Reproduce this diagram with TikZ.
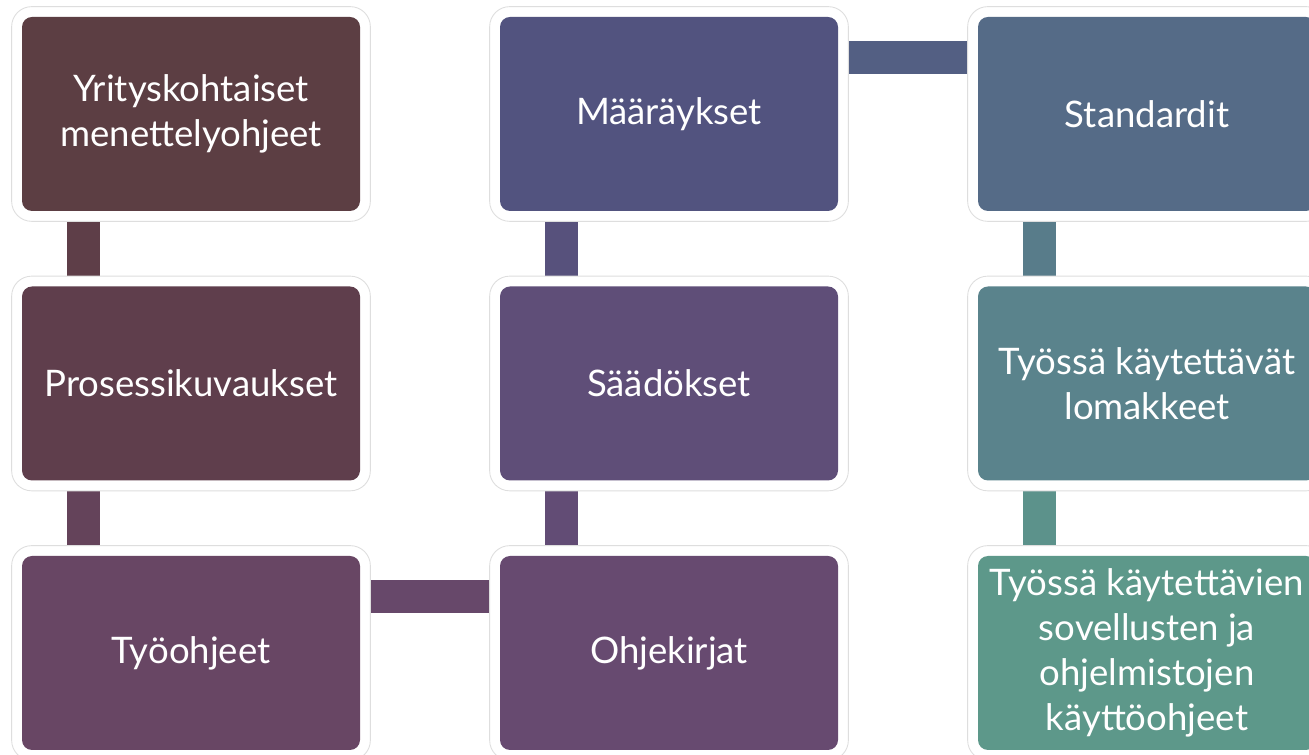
\documentclass[tikz,border=0pt]{standalone}
\usepackage{fontspec}
\setmainfont{Lato}
\usetikzlibrary{positioning, calc, fit, backgrounds}

\definecolor{boxYritys}{RGB}{92,62,67}
\definecolor{boxProsessi}{RGB}{95,62,76}
\definecolor{boxTyo}{RGB}{104,70,100}
\definecolor{boxOhje}{RGB}{103,74,112}
\definecolor{boxSaados}{RGB}{95,78,120}
\definecolor{boxMaarays}{RGB}{82,83,127}
\definecolor{boxStandard}{RGB}{85,107,135}
\definecolor{boxLomake}{RGB}{90,131,140}
\definecolor{boxKaytto}{RGB}{93,152,138}

\begin{document}
\begin{tikzpicture}[
    entry/.style = {rectangle, rounded corners=0.2cm, inner sep=0pt,
                    minimum width=6.76cm, minimum height=3.88cm,
                    text=white, align=center,
                    font=\fontsize{20.8}{25.6}\selectfont},
    frame/.style = {rectangle, rounded corners=0.4cm, draw=black!13,
                    line width=0.5pt, fill=white, inner sep=0.2cm},
    link/.style  = {line width=0.66cm},
]

%% ---- Layout coordinates ----
\def\xA{3.82}
\def\xB{13.38}
\def\xC{22.94}
\def\yTop{12.82}
\def\yMid{7.43}
\def\yLow{2.04}
\def\vOff{1.24cm}
\def\hOff{0.82cm}

\useasboundingbox (0,0) rectangle (26.18,15.1);

%% ==================================================================
%% NODES
%% ==================================================================

\node[entry, fill=boxYritys] (yritys) at (\xA, \yTop)
    {Yrityskohtaiset\\menettelyohjeet};
\node[entry, fill=boxProsessi] (prosessi) at (\xA, \yMid)
    {Prosessikuvaukset};
\node[entry, fill=boxTyo] (tyo) at (\xA, \yLow)
    {Työohjeet};

\node[entry, fill=boxMaarays] (maarays) at (\xB, \yTop)
    {Määräykset};
\node[entry, fill=boxSaados] (saados) at (\xB, \yMid)
    {Säädökset};
\node[entry, fill=boxOhje] (ohje) at (\xB, \yLow)
    {Ohjekirjat};

\node[entry, fill=boxStandard] (standard) at (\xC, \yTop)
    {Standardit};
\node[entry, fill=boxLomake] (lomake) at (\xC, \yMid)
    {Työssä käytettävät\\lomakkeet};
\node[entry, fill=boxKaytto] (kaytto) at (\xC, \yLow)
    {Työssä käytettävien\\sovellusten ja\\ohjelmistojen\\käyttöohjeet};

%% ==================================================================
%% CONNECTIONS + FRAMES
%% ==================================================================
\begin{scope}[on background layer]
    %% column 1, downwards
    \draw[link, draw=boxYritys!50!boxProsessi]
        ([xshift=\vOff]yritys.south west) -- ([xshift=\vOff]prosessi.north west);
    \draw[link, draw=boxProsessi!40!boxTyo]
        ([xshift=\vOff]prosessi.south west) -- ([xshift=\vOff]tyo.north west);
    %% across the bottom
    \draw[link, draw=boxTyo!50!boxOhje]
        ([yshift=-\hOff]tyo.north east) -- ([yshift=-\hOff]ohje.north west);
    %% column 2, upwards
    \draw[link, draw=boxOhje!40!boxSaados]
        ([xshift=\vOff]ohje.north west) -- ([xshift=\vOff]saados.south west);
    \draw[link, draw=boxSaados!40!boxMaarays]
        ([xshift=\vOff]saados.north west) -- ([xshift=\vOff]maarays.south west);
    %% across the top
    \draw[link, draw=boxMaarays!50!boxStandard]
        ([yshift=-\hOff]maarays.north east) -- ([yshift=-\hOff]standard.north west);
    %% column 3, downwards
    \draw[link, draw=boxStandard!30!boxLomake]
        ([xshift=\vOff]standard.south west) -- ([xshift=\vOff]lomake.north west);
    \draw[link, draw=boxLomake!30!boxKaytto]
        ([xshift=\vOff]lomake.south west) -- ([xshift=\vOff]kaytto.north west);

    %% white frames round every box
    \foreach \n in {yritys, prosessi, tyo, maarays, saados, ohje,
                    standard, lomake, kaytto}
        \node[frame, fit=(\n)] (\n-frame) {};
\end{scope}

\end{tikzpicture}
\end{document}
